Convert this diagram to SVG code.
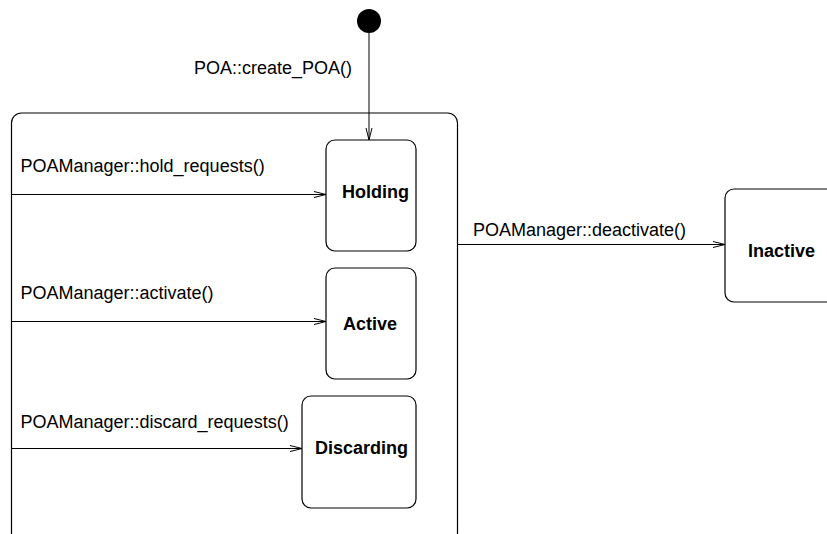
<svg xmlns="http://www.w3.org/2000/svg" width="827" height="534" viewBox="0 0 827 534">
  <defs>
    <marker id="open" markerWidth="14" markerHeight="8" refX="12" refY="4" orient="auto" markerUnits="userSpaceOnUse">
      <path d="M0,1 L12,4 L0,7" fill="none" stroke="#000" stroke-width="1"/>
    </marker>
    <style>
      .state { fill: #fff; stroke: #000; stroke-width: 1.2; }
      .frame { fill: none; stroke: #000; stroke-width: 1.2; }
      .edge { fill: none; stroke: #000; stroke-width: 1; marker-end: url(#open); }
      .lbl { font-family: "Liberation Sans", Arial, sans-serif; font-size: 18px; fill: #000; }
      .name { font-family: "Liberation Sans", Arial, sans-serif; font-size: 18px; font-weight: bold; fill: #000; }
    </style>
  </defs>
  <rect width="827" height="534" fill="#fff"/>

  <!-- composite state enclosing the POA manager states -->
  <g id="poa-manager">
    <rect class="frame" x="11.5" y="113" width="446" height="430" rx="10" ry="10"/>
  </g>

  <g id="initial">
    <circle cx="369" cy="21" r="12" fill="#000"/>
  </g>

  <g id="holding">
    <rect class="state" x="326" y="140" width="90" height="111" rx="9" ry="9"/>
    <text class="name" x="342" y="198">Holding</text>
  </g>

  <g id="active">
    <rect class="state" x="326" y="268" width="90" height="111" rx="9" ry="9"/>
    <text class="name" x="343" y="330">Active</text>
  </g>

  <g id="discarding">
    <rect class="state" x="302" y="396" width="114" height="112" rx="9" ry="9"/>
    <text class="name" x="315" y="454">Discarding</text>
  </g>

  <g id="inactive">
    <rect class="state" x="725" y="189" width="130" height="113" rx="9" ry="9"/>
    <text class="name" x="748" y="257">Inactive</text>
  </g>

  <!-- transitions -->
  <g id="connectors">
    <line class="edge" x1="369" y1="33" x2="369" y2="140"/>
    <line class="edge" x1="11.5" y1="194.5" x2="326" y2="194.5"/>
    <line class="edge" x1="11.5" y1="321.5" x2="326" y2="321.5"/>
    <line class="edge" x1="11.5" y1="448.5" x2="302" y2="448.5"/>
    <line class="edge" x1="457.5" y1="244.5" x2="725" y2="244.5"/>
  </g>

  <g id="labels">
    <text class="lbl" x="194" y="74">POA::create_POA()</text>
    <text class="lbl" x="20.5" y="172">POAManager::hold_requests()</text>
    <text class="lbl" x="20.5" y="299">POAManager::activate()</text>
    <text class="lbl" x="20.5" y="428">POAManager::discard_requests()</text>
    <text class="lbl" x="473" y="236">POAManager::deactivate()</text>
  </g>
</svg>
